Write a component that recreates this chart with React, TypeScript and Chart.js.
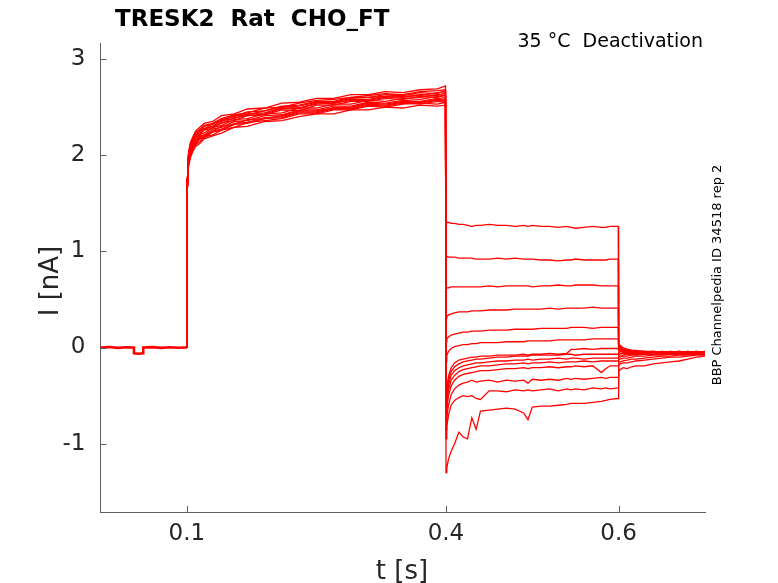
import { useEffect, useRef } from "react";
import { Chart, registerables } from "chart.js";

Chart.register(...registerables);

const chartTitle = "TRESK2  Rat  CHO_FT";
const chartSubtitle = "35 °C  Deactivation";
const sideNote = "BBP Channelpedia ID 34518 rep 2";
const xLabel = "t [s]";
const yLabel = "I [nA]";
const xTicks = [0.1, 0.4, 0.6];
const yTicks = [-1, 0, 1, 2, 3];
const xRange = [0, 0.7];
const yRange = [-1.71, 3.166];

// holding segment (shared by all sweeps)
const holdT = [0, 0.01, 0.02, 0.03, 0.0387, 0.0388, 0.044, 0.0494, 0.0495, 0.06, 0.07, 0.08, 0.09, 0.1];
const holdI = [0, 0.005, -0.004, 0.003, 0, -0.06, -0.065, -0.06, 0, 0.004, -0.004, 0.003, -0.003, 0];

// activation step (0.1 .. 0.4 s)
const actT = [0.1003, 0.101, 0.102, 0.104, 0.107, 0.11, 0.115, 0.12, 0.13, 0.14, 0.155, 0.17, 0.19, 0.21, 0.23, 0.25, 0.27, 0.29, 0.31, 0.33, 0.35, 0.37, 0.39, 0.3995];
const actI = [
  [1.76, 1.91, 2.02, 2.11, 2.18, 2.23, 2.27, 2.31, 2.33, 2.38, 2.42, 2.44, 2.49, 2.5, 2.54, 2.57, 2.58, 2.6, 2.62, 2.64, 2.63, 2.66, 2.67, 2.68],
  [1.74, 1.88, 1.98, 2.08, 2.13, 2.2, 2.22, 2.27, 2.3, 2.33, 2.39, 2.41, 2.43, 2.48, 2.49, 2.53, 2.54, 2.57, 2.57, 2.6, 2.61, 2.6, 2.63, 2.62],
  [1.7, 1.83, 1.93, 2.02, 2.08, 2.14, 2.19, 2.2, 2.25, 2.3, 2.32, 2.37, 2.38, 2.41, 2.46, 2.46, 2.49, 2.5, 2.54, 2.53, 2.56, 2.55, 2.58, 2.57],
  [1.75, 1.9, 2.0, 2.09, 2.17, 2.2, 2.26, 2.27, 2.33, 2.35, 2.41, 2.42, 2.46, 2.5, 2.51, 2.55, 2.55, 2.59, 2.6, 2.61, 2.63, 2.62, 2.65, 2.66],
  [1.68, 1.81, 1.9, 1.99, 2.05, 2.11, 2.14, 2.19, 2.21, 2.26, 2.29, 2.34, 2.36, 2.38, 2.43, 2.43, 2.47, 2.47, 2.51, 2.5, 2.53, 2.54, 2.53, 2.55],
  [1.72, 1.86, 1.97, 2.04, 2.13, 2.16, 2.22, 2.23, 2.29, 2.31, 2.37, 2.38, 2.43, 2.44, 2.49, 2.49, 2.53, 2.53, 2.57, 2.56, 2.59, 2.58, 2.61, 2.6],
  [1.77, 1.93, 2.03, 2.13, 2.19, 2.25, 2.29, 2.33, 2.35, 2.41, 2.43, 2.48, 2.49, 2.54, 2.55, 2.59, 2.59, 2.63, 2.63, 2.66, 2.65, 2.68, 2.69, 2.72],
  [1.67, 1.79, 1.88, 1.97, 2.04, 2.09, 2.12, 2.17, 2.2, 2.23, 2.29, 2.3, 2.35, 2.36, 2.4, 2.43, 2.43, 2.47, 2.47, 2.5, 2.49, 2.52, 2.51, 2.52],
  [1.73, 1.87, 1.96, 2.07, 2.12, 2.19, 2.21, 2.26, 2.28, 2.34, 2.36, 2.41, 2.42, 2.47, 2.46, 2.52, 2.52, 2.56, 2.56, 2.59, 2.58, 2.61, 2.6, 2.63],
  [1.71, 1.84, 1.95, 2.03, 2.11, 2.14, 2.2, 2.21, 2.27, 2.29, 2.35, 2.36, 2.41, 2.42, 2.47, 2.47, 2.51, 2.51, 2.55, 2.54, 2.57, 2.56, 2.59, 2.58],
  [1.75, 1.9, 2.01, 2.1, 2.16, 2.23, 2.25, 2.3, 2.32, 2.37, 2.4, 2.45, 2.46, 2.51, 2.52, 2.56, 2.56, 2.6, 2.6, 2.63, 2.62, 2.65, 2.64, 2.67],
  [1.69, 1.81, 1.92, 1.99, 2.08, 2.11, 2.17, 2.18, 2.24, 2.26, 2.32, 2.33, 2.38, 2.39, 2.44, 2.44, 2.48, 2.48, 2.52, 2.51, 2.54, 2.53, 2.56, 2.55],
  [1.74, 1.89, 1.98, 2.09, 2.14, 2.21, 2.23, 2.28, 2.3, 2.36, 2.38, 2.43, 2.44, 2.49, 2.49, 2.54, 2.54, 2.58, 2.58, 2.61, 2.6, 2.63, 2.62, 2.65],
  [1.7, 1.82, 1.93, 2.01, 2.09, 2.12, 2.18, 2.19, 2.25, 2.27, 2.33, 2.34, 2.39, 2.4, 2.45, 2.45, 2.49, 2.49, 2.53, 2.52, 2.55, 2.54, 2.57, 2.56],
];

// deactivation steps (0.4 .. 0.6 s)
const deactT = [0.4001, 0.401, 0.403, 0.406, 0.41, 0.415, 0.42, 0.425, 0.43, 0.435, 0.44, 0.45, 0.46, 0.47, 0.48, 0.49, 0.495, 0.5, 0.51, 0.52, 0.53, 0.54, 0.545, 0.55, 0.56, 0.57, 0.58, 0.585, 0.59, 0.5995];
const deactI = [
  [1.3, 1.3, 1.3, 1.29, 1.29, 1.28, 1.28, 1.27, 1.26, 1.27, 1.27, 1.28, 1.27, 1.27, 1.26, 1.27, 1.26, 1.27, 1.26, 1.26, 1.25, 1.26, 1.25, 1.24, 1.25, 1.26, 1.25, 1.25, 1.26, 1.26],
  [0.95, 0.95, 0.94, 0.94, 0.94, 0.93, 0.93, 0.93, 0.93, 0.92, 0.92, 0.92, 0.93, 0.92, 0.93, 0.92, 0.92, 0.92, 0.91, 0.91, 0.9, 0.91, 0.91, 0.92, 0.91, 0.91, 0.91, 0.91, 0.92, 0.92],
  [0.62, 0.62, 0.62, 0.63, 0.63, 0.63, 0.63, 0.63, 0.63, 0.63, 0.63, 0.64, 0.63, 0.64, 0.64, 0.64, 0.64, 0.63, 0.64, 0.64, 0.65, 0.64, 0.64, 0.65, 0.65, 0.65, 0.64, 0.64, 0.64, 0.64],
  [0.3, 0.32, 0.34, 0.35, 0.36, 0.37, 0.37, 0.37, 0.38, 0.38, 0.38, 0.39, 0.39, 0.39, 0.4, 0.4, 0.4, 0.4, 0.4, 0.41, 0.4, 0.41, 0.41, 0.41, 0.41, 0.42, 0.41, 0.41, 0.41, 0.41],
  [0.06, 0.09, 0.11, 0.13, 0.14, 0.15, 0.16, 0.16, 0.17, 0.17, 0.17, 0.18, 0.18, 0.18, 0.19, 0.19, 0.19, 0.19, 0.2, 0.2, 0.2, 0.2, 0.21, 0.21, 0.21, 0.2, 0.21, 0.21, 0.21, 0.21],
  [-0.15, -0.08, -0.04, -0.01, 0.01, 0.02, 0.03, 0.03, 0.04, 0.04, 0.05, 0.05, 0.05, 0.06, 0.06, 0.06, 0.07, 0.07, 0.07, 0.07, 0.08, 0.08, 0.08, 0.08, 0.08, 0.09, 0.09, 0.09, 0.09, 0.09],
  [-0.55, -0.42, -0.3, -0.21, -0.16, -0.13, -0.12, -0.11, -0.1, -0.1, -0.09, -0.09, -0.08, -0.08, -0.08, -0.07, -0.08, -0.07, -0.07, -0.06, -0.07, -0.06, -0.02, -0.02, -0.01, -0.02, -0.01, -0.01, -0.01, -0.01],
  [-0.6, -0.47, -0.34, -0.25, -0.2, -0.17, -0.15, -0.14, -0.13, -0.12, -0.12, -0.11, -0.1, -0.1, -0.09, -0.09, -0.09, -0.08, -0.08, -0.08, -0.08, -0.07, -0.07, -0.08, -0.07, -0.07, -0.07, -0.07, -0.07, -0.07],
  [-0.65, -0.52, -0.39, -0.29, -0.24, -0.21, -0.19, -0.18, -0.17, -0.16, -0.16, -0.15, -0.14, -0.14, -0.13, -0.13, -0.12, -0.13, -0.12, -0.12, -0.11, -0.12, -0.11, -0.11, -0.12, -0.11, -0.11, -0.11, -0.11, -0.11],
  [-0.7, -0.57, -0.44, -0.34, -0.29, -0.25, -0.23, -0.22, -0.21, -0.2, -0.19, -0.19, -0.18, -0.17, -0.17, -0.16, -0.17, -0.16, -0.16, -0.15, -0.16, -0.15, -0.15, -0.15, -0.14, -0.15, -0.14, -0.14, -0.14, -0.14],
  [-0.76, -0.63, -0.5, -0.4, -0.34, -0.3, -0.28, -0.27, -0.26, -0.25, -0.24, -0.24, -0.23, -0.22, -0.22, -0.21, -0.22, -0.21, -0.21, -0.2, -0.21, -0.2, -0.2, -0.19, -0.2, -0.19, -0.26, -0.22, -0.19, -0.19],
  [-0.85, -0.72, -0.6, -0.49, -0.43, -0.39, -0.37, -0.36, -0.34, -0.36, -0.35, -0.34, -0.36, -0.34, -0.35, -0.34, -0.37, -0.33, -0.34, -0.33, -0.34, -0.32, -0.33, -0.32, -0.33, -0.32, -0.31, -0.32, -0.31, -0.31],
  [-0.95, -0.82, -0.7, -0.6, -0.55, -0.52, -0.5, -0.51, -0.5, -0.53, -0.54, -0.45, -0.45, -0.46, -0.44, -0.45, -0.44, -0.45, -0.44, -0.43, -0.45, -0.43, -0.44, -0.43, -0.44, -0.42, -0.43, -0.42, -0.43, -0.42],
  [-1.3, -1.25, -1.16, -1.08, -1.0, -0.88, -0.93, -0.95, -0.73, -0.85, -0.66, -0.65, -0.64, -0.63, -0.64, -0.68, -0.75, -0.62, -0.61, -0.61, -0.6, -0.59, -0.58, -0.58, -0.58, -0.57, -0.56, -0.55, -0.54, -0.53],
];

// tail after return to holding (0.6 .. 0.7 s)
const tailT = [0.6, 0.602, 0.605, 0.61, 0.615, 0.62, 0.63, 0.64, 0.65, 0.66, 0.67, 0.68, 0.69, 0.7];
const tailI = [
  [0.04, 0.02, 0.0, -0.02, -0.03, -0.03, -0.04, -0.04, -0.05, -0.04, -0.05, -0.04, -0.05, -0.04],
  [0.03, 0.01, -0.01, -0.02, -0.03, -0.04, -0.04, -0.05, -0.04, -0.05, -0.04, -0.05, -0.05, -0.05],
  [0.02, 0.0, -0.02, -0.03, -0.03, -0.04, -0.05, -0.04, -0.05, -0.05, -0.04, -0.05, -0.04, -0.05],
  [0.01, -0.01, -0.02, -0.03, -0.04, -0.04, -0.05, -0.05, -0.04, -0.05, -0.05, -0.04, -0.05, -0.05],
  [0.0, -0.02, -0.03, -0.04, -0.04, -0.05, -0.04, -0.05, -0.05, -0.04, -0.05, -0.05, -0.04, -0.05],
  [-0.01, -0.03, -0.04, -0.04, -0.05, -0.05, -0.05, -0.04, -0.05, -0.05, -0.04, -0.05, -0.05, -0.06],
  [-0.03, -0.04, -0.05, -0.05, -0.05, -0.06, -0.05, -0.05, -0.06, -0.05, -0.05, -0.06, -0.05, -0.05],
  [-0.05, -0.06, -0.06, -0.06, -0.06, -0.06, -0.06, -0.05, -0.06, -0.06, -0.05, -0.06, -0.06, -0.05],
  [-0.07, -0.08, -0.08, -0.07, -0.07, -0.07, -0.06, -0.07, -0.06, -0.06, -0.06, -0.06, -0.05, -0.06],
  [-0.09, -0.1, -0.09, -0.09, -0.08, -0.08, -0.07, -0.07, -0.07, -0.06, -0.07, -0.06, -0.06, -0.06],
  [-0.12, -0.12, -0.11, -0.11, -0.1, -0.09, -0.09, -0.08, -0.08, -0.07, -0.07, -0.07, -0.06, -0.07],
  [-0.15, -0.15, -0.14, -0.13, -0.12, -0.12, -0.11, -0.1, -0.09, -0.09, -0.08, -0.08, -0.07, -0.07],
  [-0.18, -0.17, -0.16, -0.16, -0.15, -0.14, -0.13, -0.12, -0.11, -0.1, -0.1, -0.09, -0.08, -0.08],
  [-0.24, -0.23, -0.21, -0.22, -0.2, -0.19, -0.19, -0.17, -0.16, -0.15, -0.14, -0.12, -0.1, -0.09],
];

const TRACE_COLOR = "#ff0000";
const AXIS_COLOR = "#5e5e5e";
const TEXT_COLOR = "#262626";
const FONT = "'DejaVu Sans', sans-serif";

function buildSweep(i: number) {
  const pts: { x: number; y: number }[] = [];
  pts.push({ x: holdT[holdT.length - 1], y: holdI[holdI.length - 1] });
  actT.forEach((t, j) => pts.push({ x: t, y: actI[i][j] }));
  deactT.forEach((t, j) => pts.push({ x: t, y: deactI[i][j] }));
  tailT.forEach((t, j) => pts.push({ x: t, y: tailI[i][j] }));
  return pts;
}

const decorPlugin = {
  id: "decor",
  afterDraw(chart: any) {
    const { ctx, chartArea, scales } = chart;
    ctx.save();
    ctx.strokeStyle = AXIS_COLOR;
    ctx.lineWidth = 1;
    ctx.beginPath();
    xTicks.forEach((v) => {
      const px = Math.round(scales.x.getPixelForValue(v)) + 0.5;
      ctx.moveTo(px, chartArea.bottom);
      ctx.lineTo(px, chartArea.bottom - 6);
    });
    yTicks.forEach((v) => {
      const py = Math.round(scales.y.getPixelForValue(v)) + 0.5;
      ctx.moveTo(chartArea.left, py);
      ctx.lineTo(chartArea.left + 6, py);
    });
    ctx.stroke();

    ctx.fillStyle = "#000000";
    ctx.font = `bold 23px ${FONT}`;
    ctx.textAlign = "left";
    ctx.textBaseline = "alphabetic";
    ctx.fillText(chartTitle, 115, 26);

    ctx.font = `19px ${FONT}`;
    ctx.textAlign = "right";
    ctx.fillText(chartSubtitle, 703, 47);

    ctx.fillStyle = TEXT_COLOR;
    ctx.font = `26px ${FONT}`;
    ctx.textAlign = "center";
    ctx.fillText(xLabel, 402, 579);

    ctx.save();
    ctx.translate(58, 281);
    ctx.rotate(-Math.PI / 2);
    ctx.textAlign = "center";
    ctx.fillText(yLabel, 0, 0);
    ctx.restore();

    ctx.save();
    ctx.fillStyle = "#000000";
    ctx.font = `13px ${FONT}`;
    ctx.translate(721, 275);
    ctx.rotate(-Math.PI / 2);
    ctx.textAlign = "center";
    ctx.fillText(sideNote, 0, 0);
    ctx.restore();

    ctx.restore();
  },
};

export default function App() {
  const canvasRef = useRef<HTMLCanvasElement | null>(null);

  useEffect(() => {
    if (!canvasRef.current) return;
    const holdDataset = {
      label: "holding",
      data: holdT.map((t, j) => ({ x: t, y: holdI[j] })),
      borderColor: TRACE_COLOR,
      borderWidth: 2.6,
      pointRadius: 0,
      tension: 0,
      fill: false,
    };
    const sweepDatasets = actI.map((_, i) => ({
      label: `sweep ${i + 1}`,
      data: buildSweep(i),
      borderColor: TRACE_COLOR,
      borderWidth: 1.3,
      pointRadius: 0,
      tension: 0,
      fill: false,
    }));
    const chart = new Chart(canvasRef.current, {
      type: "line",
      data: { datasets: [holdDataset, ...sweepDatasets] },
      options: {
        animation: false,
        responsive: false,
        maintainAspectRatio: false,
        parsing: false,
        normalized: true,
        layout: { padding: { left: 0, right: 73, top: 43, bottom: 0 } },
        plugins: {
          legend: { display: false },
          tooltip: { enabled: false },
          title: { display: false },
        },
        scales: {
          x: {
            type: "linear",
            min: xRange[0],
            max: xRange[1],
            afterBuildTicks: (s: any) => {
              s.ticks = xTicks.map((value) => ({ value }));
            },
            afterFit: (s: any) => {
              s.height = 71;
            },
            grid: { display: true, drawOnChartArea: false, drawTicks: false },
            border: { display: true, color: AXIS_COLOR, width: 1 },
            ticks: {
              padding: 8,
              color: TEXT_COLOR,
              font: { family: FONT, size: 23 },
              maxRotation: 0,
              autoSkip: false,
              callback: (v: any) => String(v),
            },
          },
          y: {
            type: "linear",
            min: yRange[0],
            max: yRange[1],
            afterBuildTicks: (s: any) => {
              s.ticks = yTicks.map((value) => ({ value }));
            },
            afterFit: (s: any) => {
              s.width = 100.5;
            },
            grid: { display: true, drawOnChartArea: false, drawTicks: false },
            border: { display: true, color: AXIS_COLOR, width: 1 },
            ticks: {
              padding: 15,
              color: TEXT_COLOR,
              font: { family: FONT, size: 23 },
              autoSkip: false,
              callback: (v: any) => String(v),
            },
          },
        },
      },
      plugins: [decorPlugin],
    });
    return () => chart.destroy();
  }, []);

  return (
    <div style={{ position: "absolute", left: 0, top: 0, width: 778, height: 583, background: "#ffffff" }}>
      <canvas ref={canvasRef} width={778} height={583} style={{ display: "block" }} />
    </div>
  );
}
